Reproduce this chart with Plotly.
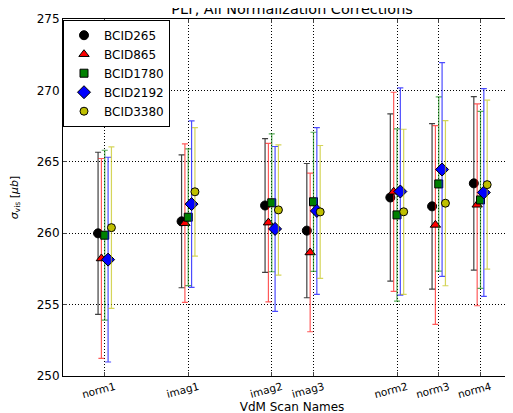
import plotly.graph_objects as go

scans = ["norm1", "imag1", "imag2", "imag3", "norm2", "norm3", "norm4"]
scan_x = [1, 3, 5, 6, 8, 9, 10]

bcids = ["BCID265", "BCID865", "BCID1780", "BCID2192", "BCID3380"]
sigma_265 = [259.99, 260.83, 261.94, 260.18, 262.50, 261.88, 263.49]
err_265 = [5.68, 4.65, 4.68, 4.70, 5.86, 5.79, 6.07]
sigma_865 = [258.23, 260.70, 260.74, 258.65, 262.90, 260.58, 261.99]
err_865 = [7.00, 5.55, 5.55, 5.55, 6.97, 6.96, 7.07]
sigma_1780 = [259.86, 261.12, 262.13, 262.20, 261.28, 263.45, 262.33]
err_1780 = [5.95, 4.79, 4.83, 4.87, 6.03, 6.10, 6.20]
sigma_2192 = [258.15, 262.04, 260.30, 261.56, 262.92, 264.46, 262.85]
err_2192 = [7.17, 5.83, 5.77, 5.84, 7.25, 7.48, 7.27]
sigma_3380 = [260.39, 262.90, 261.63, 261.49, 261.50, 262.10, 263.40]
err_3380 = [5.66, 4.50, 4.56, 4.65, 5.78, 5.78, 5.92]

values = [sigma_265, sigma_865, sigma_1780, sigma_2192, sigma_3380]
errors = [err_265, err_865, err_1780, err_2192, err_3380]

offsets = [-0.16, -0.08, 0.0, 0.08, 0.16]
colors = ["#000000", "#ff0000", "#008000", "#0000ff", "#bfbf00"]
err_colors = ["rgba(0,0,0,0.75)", "rgba(255,0,0,0.65)", "rgba(0,128,0,0.65)",
              "rgba(0,0,255,0.7)", "rgba(191,191,0,0.65)"]
symbols = ["circle", "triangle-up", "square", "diamond", "circle"]
sizes = [9, 9, 8, 10, 8]

fig = go.Figure()
for name, v, e, off, c, ec, s, sz in zip(bcids, values, errors, offsets, colors,
                                         err_colors, symbols, sizes):
    fig.add_trace(go.Scatter(
        x=[p + off for p in scan_x], y=v, mode="markers", name=name,
        marker=dict(color=c, symbol=s, size=sz, line=dict(color="black", width=1)),
        error_y=dict(type="data", array=e, visible=True, color=ec,
                     thickness=1.2, width=3),
    ))

fig.update_layout(
    width=513, height=413,
    margin=dict(l=55, r=0, t=11, b=45),
    paper_bgcolor="white", plot_bgcolor="white",
    font=dict(family="DejaVu Sans", color="black"),
    showlegend=True,
    title=dict(text="PLT, All Normalization Corrections", xref="paper", x=0.5,
               xanchor="center", yref="container", y=1 - 6 / 413, yanchor="bottom",
               font=dict(size=14.4, family="DejaVu Sans"), pad=dict(t=0, b=0)),
    legend=dict(x=0.0, y=0.998, xanchor="left", yanchor="top",
                bgcolor="white", bordercolor="black", borderwidth=1,
                font=dict(size=12), tracegroupgap=0),
)

fig.update_xaxes(
    range=[0, 10.97], tickmode="array", tickvals=scan_x, ticktext=scans,
    tickangle=-15, tickfont=dict(size=10.5), ticks="inside", ticklen=4,
    ticklabelshift=10,
    showline=True, linecolor="black", linewidth=1, mirror="ticks",
    showgrid=True, gridcolor="black", gridwidth=1, griddash="1px,2px",
    zeroline=False,
    title=dict(text="VdM Scan Names", font=dict(size=12), standoff=0),
)
fig.update_yaxes(
    range=[250, 275], tickvals=[250, 255, 260, 265, 270, 275],
    tickfont=dict(size=12), ticks="inside", ticklen=4,
    showline=True, linecolor="black", linewidth=1, mirror=False,
    showgrid=True, gridcolor="black", gridwidth=1, griddash="1px,2px",
    zeroline=False,
    title=dict(text="<i>σ</i><sub>vis</sub> [<i>μb</i>]", font=dict(size=11), standoff=17),
)

fig.write_html("out.html")
